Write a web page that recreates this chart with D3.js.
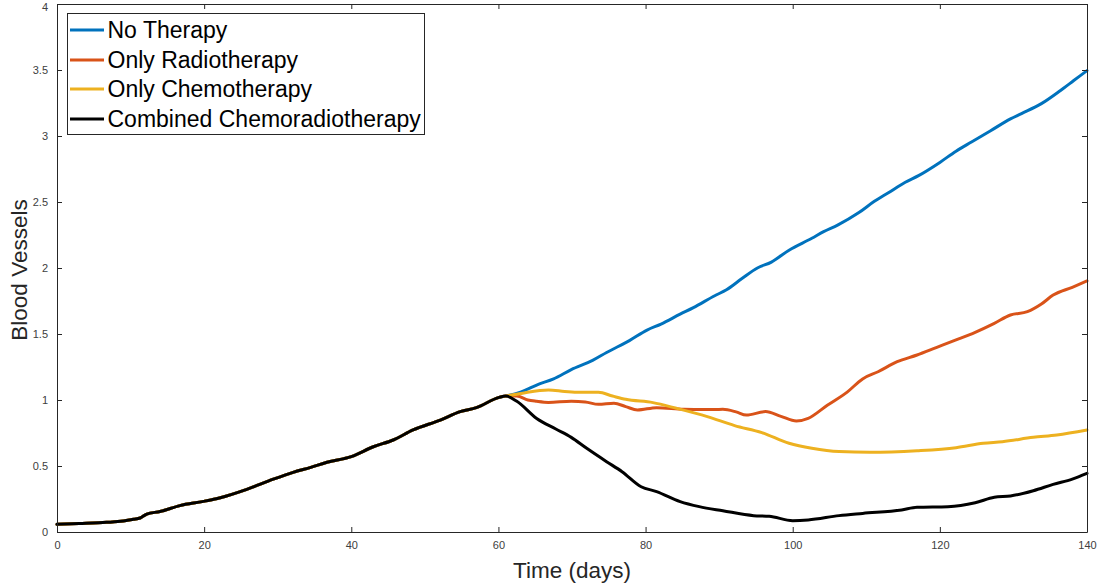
<!DOCTYPE html>
<html>
<head>
<meta charset="utf-8">
<script src="https://cdn.jsdelivr.net/npm/d3@7"></script>
<style>
  html, body { margin: 0; padding: 0; background: #fff; }
  svg { display: block; font-family: "Liberation Sans", Arial, Helvetica, sans-serif; }
</style>
</head>
<body>
<svg id="chart" width="1099" height="586"></svg>
<script>
// Shared growth phase before any treatment starts (day, blood vessel density)
const commonPhase = [
  [0, 0.058], [3, 0.064], [6.75, 0.073], [9, 0.083], [10.4, 0.096], [11.3, 0.106],
  [12.2, 0.136], [14, 0.155], [16.7, 0.20], [19.9, 0.232], [22.2, 0.26], [25.8, 0.323],
  [29.4, 0.40], [32.1, 0.452], [34.5, 0.49], [36.7, 0.528], [40, 0.571], [43, 0.646],
  [45.7, 0.697], [48.4, 0.773], [52.1, 0.848], [54.8, 0.912], [57, 0.942], [60.1, 1.02],
  [61, 1.03]
];

// Post-day-61 trajectories for each regime
const noTherapyTail = [
  [63, 1.06], [65.5, 1.12], [67.5, 1.16], [69.9, 1.23], [72.8, 1.30], [74.7, 1.36],
  [77.8, 1.45], [80.2, 1.53], [82.1, 1.575], [84.7, 1.65], [86.5, 1.70], [89.4, 1.79],
  [91, 1.835], [93.1, 1.92], [95.2, 2.00], [97.1, 2.045], [99.5, 2.135], [102.6, 2.225],
  [104.2, 2.275], [106.1, 2.325], [109, 2.42], [111.1, 2.505], [113, 2.57], [115.3, 2.65],
  [117.1, 2.70], [120, 2.80], [122.2, 2.885], [124.3, 2.955], [126.9, 3.04], [129.6, 3.13],
  [131.1, 3.17], [133.8, 3.245], [136.4, 3.345], [138.2, 3.42], [140, 3.495]
];

const radioTail = [
  [62.5, 1.03], [64, 1.00], [65.2, 0.99], [66.8, 0.982], [69.9, 0.99], [71.8, 0.985],
  [73.6, 0.967], [75.7, 0.975], [77.3, 0.95], [78.9, 0.924], [81.5, 0.942], [85.2, 0.93],
  [88, 0.928], [90.5, 0.929], [92.3, 0.91], [93.7, 0.886], [96.3, 0.912], [98.4, 0.876],
  [100.5, 0.841], [102.1, 0.861], [104.7, 0.96], [107.4, 1.06], [109.5, 1.16],
  [111.6, 1.214], [114.2, 1.29], [116.9, 1.341], [119.5, 1.397], [122.2, 1.455],
  [124.8, 1.513], [127.4, 1.581], [129.6, 1.644], [131.9, 1.669], [133.8, 1.727],
  [135.4, 1.795], [138, 1.854], [140, 1.902]
];

const chemoTail = [
  [63.1, 1.05], [66.8, 1.076], [69, 1.065], [71, 1.058], [73.6, 1.058], [75.5, 1.03],
  [77.3, 1.005], [81, 0.98], [84.2, 0.937], [88.4, 0.874], [92.1, 0.806], [95.8, 0.753],
  [99.5, 0.672], [102.6, 0.634], [106.3, 0.609], [110.5, 0.604], [116.9, 0.616],
  [122.2, 0.639], [125.9, 0.672], [128.5, 0.684], [132.7, 0.717], [135.9, 0.735],
  [140, 0.773]
];

const combinedTail = [
  [62.5, 0.99], [65.2, 0.86], [67.8, 0.78], [69.9, 0.717], [72.0, 0.634], [74.7, 0.533],
  [76.8, 0.457], [79.4, 0.343], [81.5, 0.306], [84.7, 0.23], [87.3, 0.192], [90.5, 0.161],
  [94.7, 0.124], [96.8, 0.119], [100, 0.086], [102.1, 0.091], [106.3, 0.124],
  [109.5, 0.141], [114.8, 0.167], [116.9, 0.187], [121.1, 0.192], [124.8, 0.222],
  [127.4, 0.263], [129.6, 0.273], [132.7, 0.313], [135.4, 0.361], [138, 0.401],
  [140, 0.444]
];

const seriesNames = ["No Therapy", "Only Radiotherapy", "Only Chemotherapy", "Combined Chemoradiotherapy"];
const seriesColors = ["#0072BD", "#D95319", "#EDB120", "#000000"];
const seriesTails = [noTherapyTail, radioTail, chemoTail, combinedTail];

const xTicks = [0, 20, 40, 60, 80, 100, 120, 140];
const yTicks = [0, 0.5, 1, 1.5, 2, 2.5, 3, 3.5, 4];

const xLabel = "Time (days)";
const yLabel = "Blood Vessels";

// Layout
const plot = { left: 57, right: 1087, top: 4, bottom: 532 };
const axisColor = "#262626";

const svg = d3.select("#chart");

const x = d3.scaleLinear().domain([0, 140]).range([plot.left, plot.right]);
const y = d3.scaleLinear().domain([0, 4]).range([plot.bottom, plot.top]);

const line = d3.line()
  .x(d => x(d[0]))
  .y(d => y(d[1]))
  .curve(d3.curveMonotoneX);

// Curves (drawn in legend order so the combined curve ends up on top)
seriesTails.forEach((tail, i) => {
  svg.append("path")
    .datum(commonPhase.concat(tail))
    .attr("fill", "none")
    .attr("stroke", seriesColors[i])
    .attr("stroke-width", 3)
    .attr("stroke-linejoin", "round")
    .attr("stroke-linecap", "round")
    .attr("d", line);
});

// Box axes with inward ticks on all four sides
const tickLen = 5;
function styleAxis(g) {
  g.select(".domain").attr("stroke", axisColor).attr("stroke-width", 1);
  g.selectAll(".tick line").attr("stroke", axisColor).attr("stroke-width", 1);
  g.selectAll(".tick text")
    .attr("fill", "#404040")
    .style("font-size", "11px")
    .style("font-family", "\"Liberation Sans\", Arial, sans-serif");
}

svg.append("g")
  .attr("transform", `translate(0,${plot.bottom})`)
  .call(d3.axisBottom(x).tickValues(xTicks).tickSize(-tickLen).tickPadding(9).tickSizeOuter(0))
  .call(styleAxis);

svg.append("g")
  .attr("transform", `translate(0,${plot.top})`)
  .call(d3.axisTop(x).tickValues(xTicks).tickSize(-tickLen).tickFormat("").tickSizeOuter(0))
  .call(styleAxis);

const yAxisG = svg.append("g")
  .attr("transform", `translate(${plot.left},0)`)
  .call(d3.axisLeft(y).tickValues(yTicks).tickSize(-tickLen).tickPadding(9).tickSizeOuter(0)
    .tickFormat(d3.format("~g")))
  .call(styleAxis);

// Keep the topmost tick label inside the canvas
yAxisG.selectAll(".tick")
  .filter(d => d === 4)
  .select("text")
  .attr("dy", "0.62em");

svg.append("g")
  .attr("transform", `translate(${plot.right},0)`)
  .call(d3.axisRight(y).tickValues(yTicks).tickSize(-tickLen).tickFormat("").tickSizeOuter(0))
  .call(styleAxis);

// Axis titles
svg.append("text")
  .attr("x", (plot.left + plot.right) / 2)
  .attr("y", 578)
  .attr("text-anchor", "middle")
  .attr("fill", axisColor)
  .style("font-size", "22.5px")
  .text(xLabel);

svg.append("text")
  .attr("transform", `translate(27,${(plot.top + plot.bottom) / 2 + 2}) rotate(-90)`)
  .attr("text-anchor", "middle")
  .attr("fill", axisColor)
  .style("font-size", "22.5px")
  .text(yLabel);

// Legend
const legend = svg.append("g");
legend.append("rect")
  .attr("x", 67.5).attr("y", 13.5)
  .attr("width", 357).attr("height", 121)
  .attr("fill", "#fff")
  .attr("stroke", axisColor)
  .attr("stroke-width", 1);

const rowY = [30, 60, 89, 119];
seriesNames.forEach((name, i) => {
  legend.append("line")
    .attr("x1", 70).attr("x2", 104)
    .attr("y1", rowY[i]).attr("y2", rowY[i])
    .attr("stroke", seriesColors[i])
    .attr("stroke-width", 3);
  legend.append("text")
    .attr("x", 107.5)
    .attr("y", rowY[i])
    .attr("dy", "0.36em")
    .attr("fill", "#000")
    .style("font-size", "23px")
    .text(name);
});
</script>
</body>
</html>
